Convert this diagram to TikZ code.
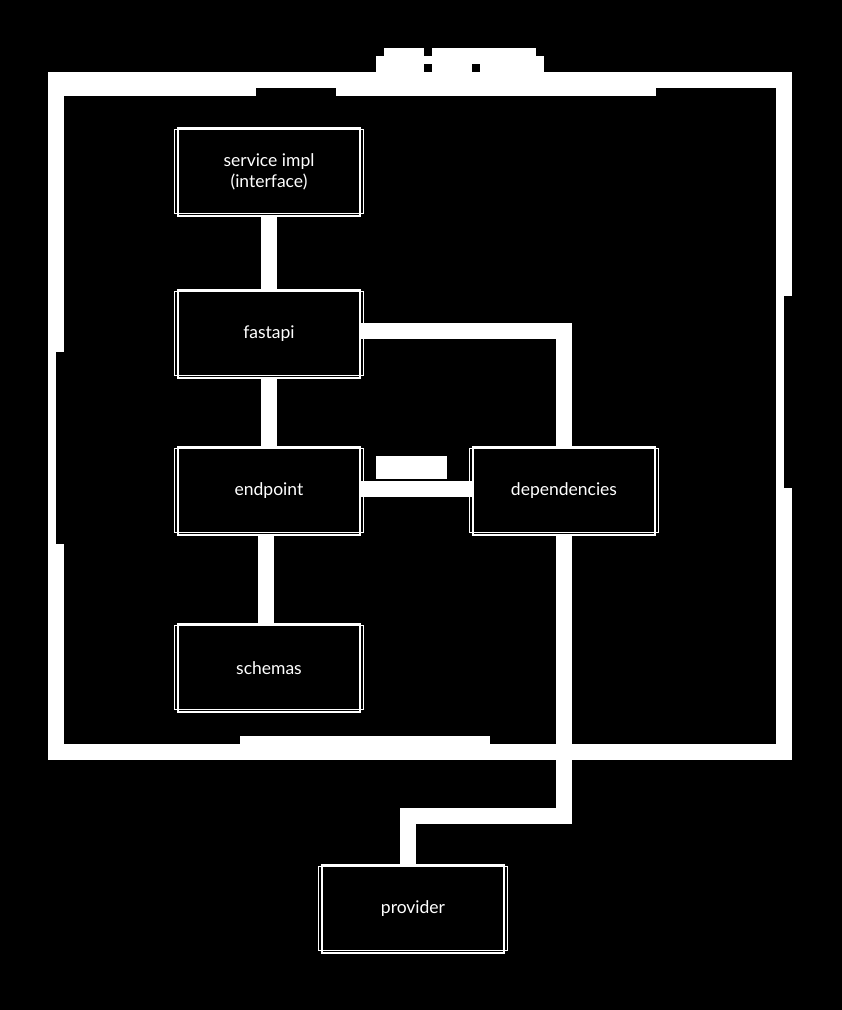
\documentclass[tikz,border=0pt]{standalone}
\usepackage{fontspec}
\setmainfont{Lato}
\begin{document}
\begin{tikzpicture}[x=1pt,y=-1pt,
  boxnode/.style={draw=white,line width=1.6pt,fill=black,minimum width=182pt,minimum height=88pt,
    inner sep=0pt,text=white,font=\fontsize{17.5}{21}\selectfont,align=center},
  conn/.style={draw=white,line width=16pt,line cap=butt,line join=miter},
  framestyle/.style={draw=white,line width=16pt,line join=miter},
  blob/.style={fill=white,draw=none}]
\useasboundingbox (0,0) rectangle (842,1010);
\fill[black] (0,0) rectangle (842,1010);
% outer frame
\draw[framestyle] (56,80) rectangle (784,752);
\fill[white] (64,88) rectangle (256,96);
\fill[white] (336,88) rectangle (656,96);
\fill[white] (240,736) rectangle (490,744);
\fill[black] (56,352) rectangle (64,544);
\fill[black] (784,296) rectangle (792,488);
% title blob
\fill[blob] (376,56) rectangle (544,72);
\fill[blob] (384,48) rectangle (424,56);
\fill[blob] (432,48) rectangle (536,56);
\fill[black] (424,64) rectangle (432,72);
\fill[black] (472,64) rectangle (480,72);
% nodes
\node[boxnode] (svc) at (269,172) {service impl\\(interface)};
\node[boxnode] (fast) at (269,334) {fastapi};
\node[boxnode] (endp) at (269,491) {endpoint};
\node[boxnode] (dep) at (564,491) {dependencies};
\node[boxnode] (sch) at (269,668) {schemas};
\node[boxnode] (prov) at (413,909) {provider};
\coordinate (bend) at (488,816);
% connectors
\draw[conn] (svc.south) -- (fast.north);
\draw[conn] (fast.south) -- (endp.north);
\draw[conn] ([xshift=-3pt]endp.south) -- ([xshift=-3pt]sch.north);
\draw[conn] ([yshift=3pt]fast.east) -| (dep.north);
\draw[conn] ([yshift=2pt]dep.west) -- ([yshift=2pt]endp.east);
\draw[conn] (dep.south) -- (dep.south |- bend) -- ([xshift=-5pt]prov.north |- bend) -- ([xshift=-5pt]prov.north);
% label blob on dep -> endpoint connector
\node[blob,minimum width=71pt,minimum height=23pt,inner sep=0pt] (lbl) at (411.5,467.5) {};
% second sketch outline on every box
\foreach \n in {svc,fast,endp,dep,sch,prov}{
  \draw[white,line width=0.8pt] ([xshift=-3pt,yshift=-2pt]\n.north west) rectangle ([xshift=3pt,yshift=3pt]\n.south east);
}
\end{tikzpicture}
\end{document}
